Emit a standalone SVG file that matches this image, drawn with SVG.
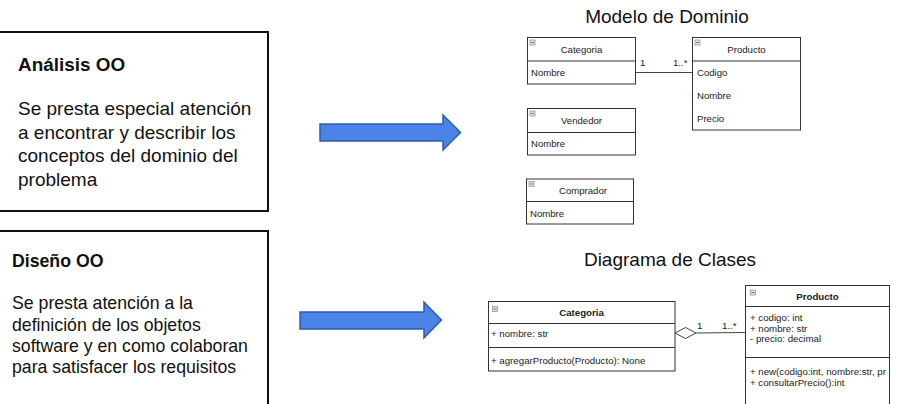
<svg xmlns="http://www.w3.org/2000/svg" width="900" height="404" viewBox="0 0 900 404">
<defs>
<style>
text{font-family:"Liberation Sans",Arial,sans-serif;fill:#111}
.frame{fill:#fff;stroke:#111;stroke-width:2}
.h1{font-size:18.9px;font-weight:bold}
.b1{font-size:19px}
.h2{font-size:17.7px;font-weight:bold}
.b2{font-size:17.7px}
.title{font-size:19px}
.arrow{fill:#4B83E6;stroke:#2D5CB3;stroke-width:1.5}
.cls{fill:#fff;stroke:#333;stroke-width:1}
.sep{stroke:#333;stroke-width:1}
.dm{font-size:9.6px;fill:#222}
.cd{font-size:9.7px;fill:#222}
.cdh{font-size:9.7px;font-weight:bold;fill:#222}
.edge{stroke:#444;stroke-width:1;fill:none}
</style>
<g id="mini">
<rect x="0" y="0" width="5" height="5" fill="#e4e4e4" stroke="#888" stroke-width="0.7"/>
<line x1="1" y1="2.5" x2="4" y2="2.5" stroke="#555" stroke-width="0.8"/>
</g>
</defs>
<rect width="900" height="404" fill="#fff"/>

<g id="analisis">
<rect class="frame" x="-5" y="32" width="273" height="179"/>
<text class="h1" x="18" y="71">Análisis OO</text>
<text class="b1" x="18" y="115">Se presta especial atención</text>
<text class="b1" x="18" y="138.5">a encontrar y describir los</text>
<text class="b1" x="18" y="162">conceptos del dominio del</text>
<text class="b1" x="18" y="185.5">problema</text>
</g>

<g id="diseno">
<rect class="frame" x="-5" y="231" width="273" height="190"/>
<text class="h2" x="12" y="267">Diseño OO</text>
<text class="b2" x="12" y="309">Se presta atención a la</text>
<text class="b2" x="12" y="330.5">definición de los objetos</text>
<text class="b2" x="12" y="351.5">software y en como colaboran</text>
<text class="b2" x="12" y="372.5">para satisfacer los requisitos</text>
</g>

<g id="arrow-analisis">
<polygon class="arrow" points="320,124 443,124 443,115 460.5,132.5 443,150 443,141 320,141"/>
</g>
<g id="arrow-diseno">
<polygon class="arrow" points="300,312 424,312 424,302 441.5,320 424,338 424,329 300,329"/>
</g>

<text id="title-dominio" class="title" x="667" y="22.5" text-anchor="middle">Modelo de Dominio</text>

<g id="dm-categoria">
<rect class="cls" x="527.5" y="37.5" width="108" height="46.5"/>
<line class="sep" x1="527.5" y1="61" x2="635.5" y2="61"/>
<use href="#mini" x="530" y="40"/>
<text class="dm" x="581.5" y="52.5" text-anchor="middle">Categoria</text>
<text class="dm" x="531" y="76">Nombre</text>
</g>

<g id="dm-producto">
<rect class="cls" x="692.5" y="37.5" width="108" height="92.5"/>
<line class="sep" x1="692.5" y1="61" x2="800.5" y2="61"/>
<use href="#mini" x="695" y="40"/>
<text class="dm" x="746.5" y="52.5" text-anchor="middle">Producto</text>
<text class="dm" x="697" y="75.5">Codigo</text>
<text class="dm" x="697" y="99">Nombre</text>
<text class="dm" x="697" y="122">Precio</text>
</g>

<g id="dm-vendedor">
<rect class="cls" x="527.5" y="108.5" width="108" height="46.5"/>
<line class="sep" x1="527.5" y1="132.5" x2="635.5" y2="132.5"/>
<use href="#mini" x="530" y="111"/>
<text class="dm" x="581.5" y="123.5" text-anchor="middle">Vendedor</text>
<text class="dm" x="531" y="147">Nombre</text>
</g>

<g id="dm-comprador">
<rect class="cls" x="526.5" y="179" width="107" height="45"/>
<line class="sep" x1="526.5" y1="201.5" x2="633.5" y2="201.5"/>
<use href="#mini" x="529" y="181.5"/>
<text class="dm" x="583" y="193.5" text-anchor="middle">Comprador</text>
<text class="dm" x="530" y="217">Nombre</text>
</g>

<text id="title-clases" class="title" x="670" y="266" text-anchor="middle">Diagrama de Clases</text>

<g id="cd-categoria">
<rect class="cls" x="488.5" y="301.5" width="186.5" height="69.5"/>
<line class="sep" x1="488.5" y1="323.5" x2="675" y2="323.5"/>
<line class="sep" x1="488.5" y1="347.5" x2="675" y2="347.5"/>
<use href="#mini" x="492.5" y="306.5"/>
<text class="cdh" x="581.5" y="315.5" text-anchor="middle">Categoria</text>
<text class="cd" x="491" y="337">+ nombre: str</text>
<text class="cd" x="491" y="363.5">+ agregarProducto(Producto): None</text>
</g>

<g id="cd-producto">
<rect class="cls" x="745.5" y="285.5" width="144" height="130"/>
<line class="sep" x1="745.5" y1="306.5" x2="889.5" y2="306.5"/>
<line class="sep" x1="745.5" y1="357.5" x2="889.5" y2="357.5"/>
<use href="#mini" x="750.5" y="290"/>
<text class="cdh" x="817.5" y="299.5" text-anchor="middle">Producto</text>
<text class="cd" x="750" y="321">+ codigo: int</text>
<text class="cd" x="750" y="331.5">+ nombre: str</text>
<text class="cd" x="750" y="342">- precio: decimal</text>
<text class="cd" x="750" y="375">+ new(codigo:int, nombre:str, pr</text>
<text class="cd" x="750" y="386">+ consultarPrecio():int</text>
</g>

<g id="connectors">
<line class="edge" x1="635.5" y1="72.5" x2="692.5" y2="72.5"/>
<text class="dm" x="640" y="66">1</text>
<text class="dm" x="673" y="66">1..*</text>
<polygon points="675,333 685.5,327.5 696,333 685.5,338.5" fill="#fff" stroke="#444" stroke-width="1"/>
<line class="edge" x1="696" y1="333" x2="745.5" y2="332.5"/>
<text class="cd" x="697" y="328.5">1</text>
<text class="cd" x="722" y="328.5">1..*</text>
</g>
</svg>
